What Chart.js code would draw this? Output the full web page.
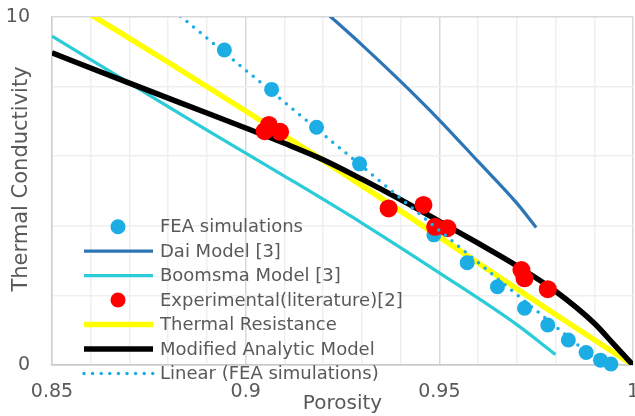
<!DOCTYPE html>
<html>
<head>
<meta charset="utf-8">
<script src="https://cdn.jsdelivr.net/npm/chart.js@4.4.0/dist/chart.umd.min.js"></script>
<style>
    html, body { margin: 0; padding: 0; background: #fff; overflow: hidden; }
    #wrap { width: 642px; height: 416px; }
</style>
</head>
<body>
<div id="wrap"><canvas id="chart"></canvas></div>
<script>
// --- Data ---
const xTickValues = [0.85, 0.9, 0.95, 1];
const xTickLabels = ['0.85', '0.9', '0.95', '1'];
const yTickValues = [0, 10];
const yTickLabels = ['0', '10'];

const feaX = [0.8945, 0.9067, 0.9183, 0.9294, 0.9486, 0.9572, 0.965, 0.972, 0.978, 0.9833, 0.9879, 0.9916, 0.9943];
const feaY = [9.05, 7.92, 6.83, 5.78, 3.74, 2.94, 2.25, 1.63, 1.15, 0.72, 0.36, 0.14, 0.03];

const expX = [0.9049, 0.906, 0.9089, 0.9369, 0.9459, 0.9489, 0.9521, 0.9712, 0.972, 0.978];
const expY = [6.72, 6.90, 6.70, 4.50, 4.60, 3.97, 3.93, 2.73, 2.49, 2.18];

const daiX = [0.92, 0.93, 0.94, 0.95, 0.96, 0.97, 0.975];
const daiY = [10.2, 9.2, 8.15, 7.04, 5.85, 4.65, 3.95];

const boomX = [0.85, 0.87, 0.89, 0.91, 0.93, 0.95, 0.97, 0.98];
const boomY = [9.45, 8.10, 6.75, 5.43, 4.08, 2.65, 1.16, 0.30];

const resX = [0.86, 0.88, 0.90, 0.92, 0.94, 0.96, 0.98, 1.0];
const resY = [10.07, 8.70, 7.30, 5.88, 4.43, 2.93, 1.45, 0.0];

const modX = [0.85, 0.87, 0.89, 0.90, 0.91, 0.92, 0.93, 0.94, 0.95, 0.96, 0.97, 0.98, 0.99, 0.995, 1.0];
const modY = [8.97, 8.10, 7.24, 6.81, 6.37, 5.90, 5.34, 4.75, 4.13, 3.50, 2.85, 2.12, 1.20, 0.60, 0.0];

const trendX = [0.878, 0.992];
const trendY = [10.5, 0.0];

const pts = (xs, ys) => xs.map((x, i) => ({ x: x, y: ys[i] }));

const textColor = '#595959';
const fontFamily = '"DejaVu Sans", sans-serif';

// legend order follows the reference
const series = [
    { label: 'FEA simulations', kind: 'dot', color: '#1CADE4', data: pts(feaX, feaY), order: 2, radius: 7.5 },
    { label: 'Dai Model [3]', kind: 'line', color: '#2E75B6', data: pts(daiX, daiY), order: 5, width: 3.25 },
    { label: 'Boomsma Model [3]', kind: 'line', color: '#2BCCD8', data: pts(boomX, boomY), order: 6, width: 3.25 },
    { label: 'Experimental(literature)[2]', kind: 'dot', color: '#FF0000', data: pts(expX, expY), order: 1, radius: 9 },
    { label: 'Thermal Resistance', kind: 'line', color: '#FFFF00', data: pts(resX, resY), order: 4, width: 5.5 },
    { label: 'Modified Analytic Model', kind: 'line', color: '#000000', data: pts(modX, modY), order: 3, width: 5.5 },
    { label: 'Linear (FEA simulations)', kind: 'dotted', color: '#1CADE4', data: pts(trendX, trendY), order: 0, width: 3.5 }
];

const datasets = series.map(s => {
    if (s.kind === 'dot') {
        return {
            label: s.label, data: s.data, order: s.order,
            showLine: false, pointRadius: s.radius, pointHoverRadius: s.radius,
            pointBackgroundColor: s.color, pointBorderWidth: 0, clip: false
        };
    }
    return {
        label: s.label, data: s.data, order: s.order,
        showLine: true, pointRadius: 0, borderColor: s.color, borderWidth: s.width,
        cubicInterpolationMode: 'monotone', clip: 0,
        borderDash: s.kind === 'dotted' ? [0, 8.6] : [],
        borderCapStyle: s.kind === 'dotted' ? 'round' : 'butt'
    };
});

const isX5 = v => Math.round(v * 100) % 5 === 0;

// --- Legend + axis titles drawn on canvas ---
const overlayPlugin = {
    id: 'overlay',
    afterDraw(chart) {
        const ctx = chart.ctx;
        const area = chart.chartArea;
        ctx.save();
        ctx.fillStyle = textColor;

        // axis titles
        ctx.textAlign = 'center';
        ctx.textBaseline = 'middle';
        ctx.font = '20px ' + fontFamily;
        ctx.fillText('Porosity', (area.left + area.right) / 2, 404);
        ctx.save();
        ctx.translate(22, 179);
        ctx.rotate(-Math.PI / 2);
        ctx.font = '21px ' + fontFamily;
        ctx.fillText('Thermal Conductivity', 0, 0);
        ctx.restore();

        // legend
        ctx.font = '18px ' + fontFamily;
        ctx.textAlign = 'left';
        series.forEach((s, i) => {
            const y = 226.7 + i * 24.45;
            ctx.fillStyle = s.color;
            ctx.strokeStyle = s.color;
            if (s.kind === 'dot') {
                ctx.beginPath();
                ctx.arc(118, y, 7.5, 0, Math.PI * 2);
                ctx.fill();
            } else {
                ctx.beginPath();
                ctx.lineWidth = s.width;
                ctx.lineCap = s.kind === 'dotted' ? 'round' : 'butt';
                ctx.setLineDash(s.kind === 'dotted' ? [0, 8.6] : []);
                ctx.moveTo(84, y);
                ctx.lineTo(153, y);
                ctx.stroke();
                ctx.setLineDash([]);
            }
            ctx.fillStyle = textColor;
            ctx.fillText(s.label, 160, y + 1);
        });
        ctx.restore();
    }
};

new Chart(document.getElementById('chart').getContext('2d'), {
    type: 'scatter',
    data: { datasets: datasets },
    options: {
        responsive: true,
        maintainAspectRatio: false,
        animation: false,
        layout: { padding: { top: 17, left: 0, right: 6.5, bottom: 0 } },
        plugins: { legend: { display: false }, tooltip: { enabled: false } },
        scales: {
            x: {
                type: 'linear', min: 0.85, max: 1.0,
                afterFit: scale => {
                    scale.height = 51;
                    scale.paddingLeft = 0;
                    scale.paddingRight = 0;
                },
                border: { color: '#C8C8C8', width: 1.5 },
                grid: {
                    drawTicks: false, lineWidth: 1.5,
                    color: c => (c.tick && isX5(c.tick.value)) ? '#D9D9D9' : '#EFEFEF'
                },
                ticks: {
                    stepSize: 0.01, autoSkip: false, maxRotation: 0, padding: 16,
                    color: textColor, font: { family: fontFamily, size: 19 },
                    callback: v => {
                        const i = xTickValues.findIndex(t => Math.abs(t - v) < 1e-6);
                        return i >= 0 ? xTickLabels[i] : '';
                    }
                }
            },
            y: {
                type: 'linear', min: 0, max: 10,
                afterFit: scale => {
                    scale.width = 52;
                    scale.paddingTop = 0;
                    scale.paddingBottom = 0;
                },
                border: { color: '#D0D0D0', width: 1.5 },
                grid: {
                    drawTicks: false, lineWidth: 1.5,
                    color: c => (c.tick && (c.tick.value === 0 || c.tick.value === 10)) ? '#D9D9D9' : '#EFEFEF'
                },
                ticks: {
                    stepSize: 2, autoSkip: false, padding: 22,
                    color: textColor, font: { family: fontFamily, size: 19 },
                    callback: v => {
                        const i = yTickValues.indexOf(v);
                        return i >= 0 ? yTickLabels[i] : '';
                    }
                }
            }
        }
    },
    plugins: [overlayPlugin]
});
</script>
</body>
</html>
